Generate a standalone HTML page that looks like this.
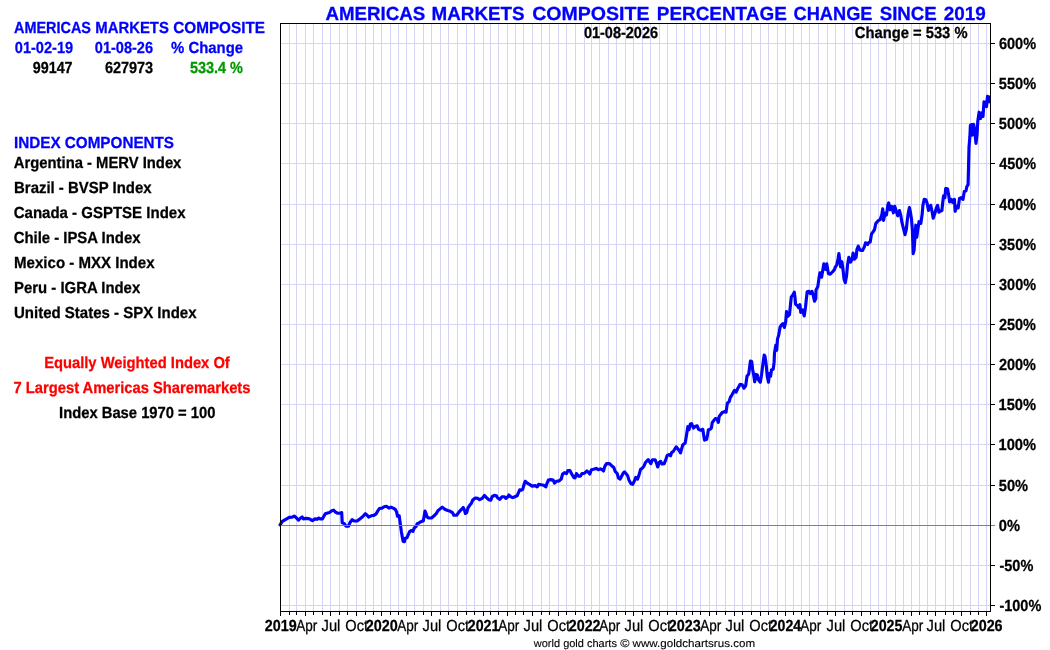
<!DOCTYPE html>
<html><head><meta charset="utf-8"><title>Americas Markets Composite</title>
<style>
html,body{margin:0;padding:0;background:#fff;}
body{width:1050px;height:650px;overflow:hidden;}
svg{display:block;will-change:transform;}
svg text{text-rendering:geometricPrecision;font-family:"Liberation Sans",Arial,Helvetica,sans-serif;font-size:16px;font-weight:bold;fill:#000;stroke:#000;stroke-width:.28px;white-space:pre;}
</style></head><body>
<svg width="1050" height="650" viewBox="0 0 1050 650">
<path d="M289.5 23.5V611.5M296.5 23.5V611.5M305.5 23.5V611.5M313.5 23.5V611.5M322.5 23.5V611.5M330.5 23.5V611.5M339.5 23.5V611.5M347.5 23.5V611.5M356.5 23.5V611.5M365.5 23.5V611.5M373.5 23.5V611.5M381.5 23.5V611.5M390.5 23.5V611.5M398.5 23.5V611.5M406.5 23.5V611.5M414.5 23.5V611.5M423.5 23.5V611.5M431.5 23.5V611.5M440.5 23.5V611.5M448.5 23.5V611.5M457.5 23.5V611.5M466.5 23.5V611.5M474.5 23.5V611.5M483.5 23.5V611.5M490.5 23.5V611.5M498.5 23.5V611.5M507.5 23.5V611.5M515.5 23.5V611.5M523.5 23.5V611.5M532.5 23.5V611.5M541.5 23.5V611.5M549.5 23.5V611.5M558.5 23.5V611.5M566.5 23.5V611.5M575.5 23.5V611.5M584.5 23.5V611.5M591.5 23.5V611.5M599.5 23.5V611.5M608.5 23.5V611.5M616.5 23.5V611.5M625.5 23.5V611.5M633.5 23.5V611.5M642.5 23.5V611.5M650.5 23.5V611.5M659.5 23.5V611.5M667.5 23.5V611.5M676.5 23.5V611.5M684.5 23.5V611.5M692.5 23.5V611.5M700.5 23.5V611.5M709.5 23.5V611.5M716.5 23.5V611.5M725.5 23.5V611.5M734.5 23.5V611.5M742.5 23.5V611.5M751.5 23.5V611.5M760.5 23.5V611.5M768.5 23.5V611.5M777.5 23.5V611.5M785.5 23.5V611.5M793.5 23.5V611.5M801.5 23.5V611.5M809.5 23.5V611.5M818.5 23.5V611.5M827.5 23.5V611.5M835.5 23.5V611.5M844.5 23.5V611.5M852.5 23.5V611.5M861.5 23.5V611.5M870.5 23.5V611.5M878.5 23.5V611.5M886.5 23.5V611.5M895.5 23.5V611.5M903.5 23.5V611.5M911.5 23.5V611.5M919.5 23.5V611.5M927.5 23.5V611.5M935.5 23.5V611.5M945.5 23.5V611.5M953.5 23.5V611.5M961.5 23.5V611.5M970.5 23.5V611.5M978.5 23.5V611.5M986.5 23.5V611.5M280.5 43.5H990.5M280.5 83.5H990.5M280.5 123.5H990.5M280.5 163.5H990.5M280.5 204.5H990.5M280.5 244.5H990.5M280.5 284.5H990.5M280.5 324.5H990.5M280.5 364.5H990.5M280.5 404.5H990.5M280.5 444.5H990.5M280.5 485.5H990.5M280.5 565.5H990.5M280.5 605.5H990.5" stroke="#d4d4f4" stroke-width="1" fill="none" shape-rendering="crispEdges"/>
<polyline points="280.1,524.9 282.3,521.4 285.8,519.3 289.2,517.4 292.2,517.1 294.2,516.1 296.1,517.6 298.5,520.1 300.6,518.0 302.1,516.9 303.4,518.9 305.6,518.4 308.1,518.6 310.3,519.3 312.4,520.6 315.0,518.9 317.2,519.3 318.5,518.0 320.2,518.9 322.4,518.9 324.1,515.8 325.4,513.7 327.5,513.1 329.7,512.4 331.8,510.7 333.6,510.2 335.3,512.0 337.4,513.1 340.0,513.2 341.7,512.6 342.2,522.7 344.3,523.6 346.0,526.2 348.6,526.2 349.9,522.7 352.1,519.7 354.2,521.0 357.2,521.0 359.8,518.9 362.6,516.7 365.3,513.7 366.9,515.0 368.6,517.1 371.2,515.8 373.8,515.4 375.9,514.1 377.7,511.1 379.4,508.5 382.0,508.1 384.6,506.5 386.7,506.4 388.9,508.1 391.0,507.2 393.2,508.1 395.3,509.4 396.6,512.0 397.5,516.3 399.2,515.8 399.8,520.1 400.5,525.3 401.3,531.3 402.2,536.5 403.1,541.2 404.4,541.7 405.2,538.2 406.9,537.8 408.2,534.8 409.5,531.8 411.2,530.5 413.0,531.3 414.3,527.9 416.0,526.6 417.3,523.6 419.4,522.7 421.6,521.4 423.3,521.0 424.2,515.8 425.0,511.1 425.9,513.2 427.2,517.1 428.9,518.0 431.5,518.0 434.1,515.8 436.2,513.7 437.9,510.7 440.1,508.9 442.2,507.2 444.0,508.5 445.2,509.6 447.8,510.5 450.3,511.3 452.5,512.6 453.8,515.2 456.8,515.2 458.5,512.6 460.7,510.1 463.2,507.5 464.6,510.5 465.4,513.5 466.7,512.6 468.0,507.9 469.7,505.3 471.4,503.2 472.7,500.1 475.3,498.0 477.9,498.4 479.6,499.7 482.2,498.4 484.4,495.4 486.5,497.6 488.7,499.7 490.8,500.1 492.1,496.7 494.3,495.4 496.4,495.8 497.7,498.0 499.9,499.3 502.0,496.7 504.2,496.7 505.9,498.4 507.6,497.1 508.9,495.0 510.6,496.7 512.8,497.6 514.9,496.7 517.1,495.8 518.4,492.8 519.7,489.8 521.4,490.2 522.7,489.4 524.0,484.6 525.2,481.3 527.3,483.1 529.5,484.4 532.1,486.1 535.1,485.6 537.2,486.9 538.5,484.4 541.1,484.8 543.7,485.2 545.8,486.9 547.1,483.1 548.4,480.1 550.6,479.6 553.2,480.1 554.5,483.1 556.6,481.3 559.2,480.9 561.3,478.8 562.6,474.0 564.4,472.7 566.5,473.6 567.8,470.6 570.0,470.6 571.7,474.0 573.8,477.5 575.1,477.9 576.4,473.6 578.6,476.2 580.3,476.2 582.0,473.6 584.6,473.2 586.8,471.0 588.5,472.3 589.8,474.0 591.5,469.7 593.6,469.3 596.2,468.4 598.4,469.7 600.5,468.9 602.2,469.7 603.5,471.0 604.8,466.3 606.5,463.6 609.5,463.6 611.6,465.7 613.8,467.5 615.1,471.3 617.2,473.5 618.5,478.2 620.2,479.1 621.5,476.5 623.2,473.1 624.5,471.8 626.3,473.9 627.6,475.6 628.9,479.9 631.0,483.8 632.7,484.3 634.5,480.8 635.7,477.4 637.5,479.1 638.8,475.6 640.5,469.6 642.2,468.3 643.9,466.2 645.6,462.3 648.2,459.7 650.8,463.6 652.5,459.7 655.1,459.7 656.8,464.0 657.7,467.0 659.4,462.3 660.7,461.4 662.0,464.0 664.2,463.6 665.9,459.3 667.2,455.4 668.9,454.6 670.6,455.8 671.5,452.8 673.2,451.5 676.2,446.8 678.4,449.4 680.5,452.8 682.7,445.1 685.2,443.1 686.5,435.3 687.8,426.7 689.0,429.7 690.3,424.1 691.6,423.7 693.4,428.0 695.5,426.3 697.2,425.9 698.5,429.3 700.7,430.2 702.8,429.3 703.7,435.3 704.5,440.1 706.7,439.2 707.6,434.5 708.4,429.7 710.1,429.3 711.4,428.0 712.3,422.4 714.0,420.3 715.3,418.6 717.0,419.0 718.3,422.4 719.2,416.4 720.9,414.2 722.2,412.5 724.4,411.7 726.1,412.1 726.9,406.1 727.4,403.0 729.1,401.8 730.4,397.4 731.7,395.3 734.5,390.4 736.2,392.1 737.9,388.2 740.1,384.4 742.2,384.8 744.0,388.2 745.7,385.6 747.0,376.2 748.7,374.0 749.5,368.4 750.4,361.1 751.7,361.5 752.6,369.3 753.9,376.2 754.7,381.8 756.0,374.4 757.3,374.9 758.2,379.6 760.3,382.2 761.6,374.4 762.9,364.1 764.2,355.1 765.0,356.4 766.3,365.8 767.2,376.2 768.5,382.2 769.4,373.6 770.6,376.2 771.5,369.7 773.2,369.3 774.1,362.4 774.5,352.9 775.8,345.2 776.7,350.3 777.5,339.1 778.8,334.8 780.1,327.1 781.8,324.5 783.1,323.6 784.4,327.5 785.7,321.9 786.5,311.6 787.8,316.3 789.5,314.6 790.4,305.5 791.3,296.9 793.0,294.8 794.3,292.2 795.1,298.2 795.6,304.2 797.3,305.5 798.6,307.7 799.9,304.7 800.7,312.4 802.5,309.8 804.2,315.9 805.5,307.2 806.3,299.5 807.2,291.8 808.9,291.3 810.2,293.5 811.9,291.3 813.2,295.2 814.5,301.2 815.8,298.6 816.0,290.1 817.8,286.7 819.0,278.1 819.9,272.9 821.6,277.2 822.9,269.4 823.8,263.9 825.5,269.4 826.8,263.9 827.7,269.4 828.5,273.8 830.2,274.2 832.4,272.0 834.5,269.4 835.4,266.9 836.7,265.1 838.0,259.1 838.9,253.5 839.7,260.0 840.6,266.9 841.9,261.7 843.2,271.2 844.0,278.9 845.3,282.8 846.6,275.5 847.5,265.1 848.8,257.4 850.5,262.1 852.2,259.1 853.1,253.1 854.4,259.1 856.1,257.4 856.9,249.6 858.2,246.2 860.0,250.1 862.5,250.5 864.3,247.1 865.5,242.8 867.7,244.5 868.0,242.9 870.2,242.1 871.5,233.9 873.2,231.7 874.5,229.6 875.8,223.5 877.9,220.9 880.1,219.7 881.8,214.9 882.7,208.9 883.5,220.5 885.2,213.2 886.5,214.9 887.8,205.4 888.7,202.9 890.0,209.8 891.7,206.3 893.4,212.8 894.7,206.3 896.4,211.5 897.7,215.8 899.5,210.6 900.7,214.9 902.0,222.7 903.3,227.8 905.0,234.7 906.3,229.6 907.2,220.9 908.1,214.1 909.4,207.6 910.6,213.2 911.5,219.2 912.4,230.4 912.8,243.3 913.2,253.7 914.1,250.2 915.0,236.4 915.8,225.2 916.7,237.3 919.0,221.7 920.8,223.4 922.1,214.8 922.9,205.3 924.2,199.3 925.9,199.7 927.2,203.6 928.5,210.5 930.7,205.3 932.0,211.3 933.2,218.2 935.0,213.1 936.3,207.9 937.6,205.3 938.9,212.2 940.1,211.3 941.9,210.5 942.7,202.7 943.6,195.8 944.9,197.6 945.7,188.5 947.5,188.9 948.8,195.8 949.6,201.9 951.3,199.3 952.6,202.3 954.4,199.3 955.2,211.3 956.5,206.2 958.2,207.9 959.5,198.4 961.2,197.6 963.0,199.3 964.3,191.5 966.0,190.7 966.8,186.8 968.1,184.6 969.0,147.5 969.9,136.5 970.4,125.4 971.5,124.7 972.2,135.1 973.6,124.3 974.6,129.5 976.0,143.4 977.1,133.7 977.8,121.2 979.1,112.2 980.5,118.5 981.9,112.9 983.0,116.4 984.0,101.8 985.4,102.5 986.5,106.7 987.5,96.3 988.9,97.0 989.5,101.8" stroke="#0000fa" stroke-width="3.15" fill="none" stroke-linejoin="round" stroke-linecap="round"/>
<path d="M280.5 525.5H995" stroke="#ff30d0" stroke-width="1" fill="none" shape-rendering="crispEdges"/>
<rect x="280.5" y="23.5" width="710.0" height="588.0" fill="none" stroke="#000" stroke-width="1" shape-rendering="crispEdges"/>
<path d="M280.5 612v4M289.5 612v3M296.5 612v3M305.5 612v4M313.5 612v3M322.5 612v3M330.5 612v4M339.5 612v3M347.5 612v3M356.5 612v4M365.5 612v3M373.5 612v3M381.5 612v4M390.5 612v3M398.5 612v3M406.5 612v4M414.5 612v3M423.5 612v3M431.5 612v4M440.5 612v3M448.5 612v3M457.5 612v4M466.5 612v3M474.5 612v3M483.5 612v4M490.5 612v3M498.5 612v3M507.5 612v4M515.5 612v3M523.5 612v3M532.5 612v4M541.5 612v3M549.5 612v3M558.5 612v4M566.5 612v3M575.5 612v3M584.5 612v4M591.5 612v3M599.5 612v3M608.5 612v4M616.5 612v3M625.5 612v3M633.5 612v4M642.5 612v3M650.5 612v3M659.5 612v4M667.5 612v3M676.5 612v3M684.5 612v4M692.5 612v3M700.5 612v3M709.5 612v4M716.5 612v3M725.5 612v3M734.5 612v4M742.5 612v3M751.5 612v3M760.5 612v4M768.5 612v3M777.5 612v3M785.5 612v4M793.5 612v3M801.5 612v3M809.5 612v4M818.5 612v3M827.5 612v3M835.5 612v4M844.5 612v3M852.5 612v3M861.5 612v4M870.5 612v3M878.5 612v3M886.5 612v4M895.5 612v3M903.5 612v3M911.5 612v4M919.5 612v3M927.5 612v3M935.5 612v4M945.5 612v3M953.5 612v3M961.5 612v4M970.5 612v3M978.5 612v3M986.5 612v4M991 43.5h4M991 83.5h4M991 123.5h4M991 163.5h4M991 204.5h4M991 244.5h4M991 284.5h4M991 324.5h4M991 364.5h4M991 404.5h4M991 444.5h4M991 485.5h4M991 565.5h4M991 605.5h4" stroke="#000" stroke-width="1" fill="none" shape-rendering="crispEdges"/>
<text x="325.39" y="20.0" style="fill:#0000ff;stroke:#0000ff;font-size:19px" textLength="99.98" lengthAdjust="spacingAndGlyphs">AMERICAS</text>
<text x="431.61" y="20.0" style="fill:#0000ff;stroke:#0000ff;font-size:19px" textLength="93.05" lengthAdjust="spacingAndGlyphs">MARKETS</text>
<text x="532.16" y="20.0" style="fill:#0000ff;stroke:#0000ff;font-size:19px" textLength="117.28" lengthAdjust="spacingAndGlyphs">COMPOSITE</text>
<text x="656.81" y="20.0" style="fill:#0000ff;stroke:#0000ff;font-size:19px" textLength="129.97" lengthAdjust="spacingAndGlyphs">PERCENTAGE</text>
<text x="793.55" y="20.0" style="fill:#0000ff;stroke:#0000ff;font-size:19px" textLength="78.98" lengthAdjust="spacingAndGlyphs">CHANGE</text>
<text x="879.69" y="20.0" style="fill:#0000ff;stroke:#0000ff;font-size:19px" textLength="57.15" lengthAdjust="spacingAndGlyphs">SINCE</text>
<text x="943.81" y="20.0" style="fill:#0000ff;stroke:#0000ff;font-size:19px" textLength="42.09" lengthAdjust="spacingAndGlyphs">2019</text>
<text x="583.95" y="38.0" textLength="74.09" lengthAdjust="spacingAndGlyphs">01-08-2026</text>
<text x="854.76" y="38.0" textLength="112.78" lengthAdjust="spacingAndGlyphs">Change = 533 %</text>
<text x="14.02" y="33.0" style="fill:#0000ff;stroke:#0000ff" textLength="76.98" lengthAdjust="spacingAndGlyphs">AMERICAS</text>
<text x="95.37" y="33.0" style="fill:#0000ff;stroke:#0000ff" textLength="73.45" lengthAdjust="spacingAndGlyphs">MARKETS</text>
<text x="173.24" y="33.0" style="fill:#0000ff;stroke:#0000ff" textLength="91.76" lengthAdjust="spacingAndGlyphs">COMPOSITE</text>
<text x="14.82" y="53.0" style="fill:#0000ff;stroke:#0000ff" textLength="58.32" lengthAdjust="spacingAndGlyphs">01-02-19</text>
<text x="94.83" y="53.0" style="fill:#0000ff;stroke:#0000ff" textLength="58.19" lengthAdjust="spacingAndGlyphs">01-08-26</text>
<text x="171.07" y="53.0" style="fill:#0000ff;stroke:#0000ff" textLength="71.96" lengthAdjust="spacingAndGlyphs">% Change</text>
<text x="32.77" y="73.0" textLength="39.81" lengthAdjust="spacingAndGlyphs">99147</text>
<text x="104.89" y="73.0" textLength="48.27" lengthAdjust="spacingAndGlyphs">627973</text>
<text x="189.95" y="73.0" style="fill:#009900;stroke:#009900" textLength="53.04" lengthAdjust="spacingAndGlyphs">533.4 %</text>
<text x="13.98" y="148.0" style="fill:#0000ff;stroke:#0000ff" textLength="160.07" lengthAdjust="spacingAndGlyphs">INDEX COMPONENTS</text>
<text x="13.85" y="168.0" textLength="167.51" lengthAdjust="spacingAndGlyphs">Argentina - MERV Index</text>
<text x="14.08" y="193.0" textLength="137.41" lengthAdjust="spacingAndGlyphs">Brazil - BVSP Index</text>
<text x="13.72" y="218.0" textLength="171.77" lengthAdjust="spacingAndGlyphs">Canada - GSPTSE Index</text>
<text x="13.72" y="243.0" textLength="126.76" lengthAdjust="spacingAndGlyphs">Chile - IPSA Index</text>
<text x="14.08" y="268.0" textLength="140.46" lengthAdjust="spacingAndGlyphs">Mexico - MXX Index</text>
<text x="14.10" y="293.0" textLength="126.09" lengthAdjust="spacingAndGlyphs">Peru - IGRA Index</text>
<text x="14.04" y="318.0" textLength="182.52" lengthAdjust="spacingAndGlyphs">United States - SPX Index</text>
<text x="44.15" y="368.0" style="fill:#ff0000;stroke:#ff0000" textLength="185.64" lengthAdjust="spacingAndGlyphs">Equally Weighted Index Of</text>
<text x="13.59" y="393.0" style="fill:#ff0000;stroke:#ff0000" textLength="236.85" lengthAdjust="spacingAndGlyphs">7 Largest Americas Sharemarkets</text>
<text x="59.11" y="418.0" textLength="156.30" lengthAdjust="spacingAndGlyphs">Index Base 1970 = 100</text>
<text x="533.82" y="646.7" style="font-weight:normal;font-size:11px;stroke-width:.12px" textLength="83.12" lengthAdjust="spacingAndGlyphs">world gold charts</text>
<text x="620.35" y="646.7" style="font-weight:normal;font-size:11px;stroke-width:.12px" textLength="9.27" lengthAdjust="spacingAndGlyphs">©</text>
<text x="632.59" y="646.7" style="font-weight:normal;font-size:11px;stroke-width:.12px" textLength="122.58" lengthAdjust="spacingAndGlyphs">www.goldchartsrus.com</text>
<text x="998.90" y="48.8" textLength="37.18" lengthAdjust="spacingAndGlyphs">600%</text>
<text x="998.85" y="88.8" textLength="37.26" lengthAdjust="spacingAndGlyphs">550%</text>
<text x="998.85" y="128.8" textLength="37.26" lengthAdjust="spacingAndGlyphs">500%</text>
<text x="999.16" y="168.8" textLength="36.87" lengthAdjust="spacingAndGlyphs">450%</text>
<text x="999.16" y="209.8" textLength="36.87" lengthAdjust="spacingAndGlyphs">400%</text>
<text x="999.08" y="249.8" textLength="36.90" lengthAdjust="spacingAndGlyphs">350%</text>
<text x="999.08" y="289.8" textLength="36.90" lengthAdjust="spacingAndGlyphs">300%</text>
<text x="998.96" y="329.8" textLength="37.00" lengthAdjust="spacingAndGlyphs">250%</text>
<text x="998.96" y="369.8" textLength="37.00" lengthAdjust="spacingAndGlyphs">200%</text>
<text x="998.51" y="409.8" textLength="37.51" lengthAdjust="spacingAndGlyphs">150%</text>
<text x="998.51" y="449.8" textLength="37.51" lengthAdjust="spacingAndGlyphs">100%</text>
<text x="998.85" y="490.8" textLength="29.28" lengthAdjust="spacingAndGlyphs">50%</text>
<text x="998.83" y="530.8" textLength="21.19" lengthAdjust="spacingAndGlyphs">0%</text>
<text x="999.43" y="570.8" textLength="33.89" lengthAdjust="spacingAndGlyphs">-50%</text>
<text x="999.43" y="610.8" textLength="41.87" lengthAdjust="spacingAndGlyphs">-100%</text>
<text x="264.76" y="630.8" textLength="31.86" lengthAdjust="spacingAndGlyphs">2019</text>
<text x="296.29" y="630.8" style="font-weight:normal" textLength="21.06" lengthAdjust="spacingAndGlyphs">Apr</text>
<text x="321.55" y="630.8" style="font-weight:normal" textLength="18.77" lengthAdjust="spacingAndGlyphs">Jul</text>
<text x="345.31" y="630.8" style="font-weight:normal" textLength="22.76" lengthAdjust="spacingAndGlyphs">Oct</text>
<text x="365.75" y="630.8" textLength="31.94" lengthAdjust="spacingAndGlyphs">2020</text>
<text x="397.29" y="630.8" style="font-weight:normal" textLength="21.06" lengthAdjust="spacingAndGlyphs">Apr</text>
<text x="422.55" y="630.8" style="font-weight:normal" textLength="18.77" lengthAdjust="spacingAndGlyphs">Jul</text>
<text x="446.31" y="630.8" style="font-weight:normal" textLength="22.76" lengthAdjust="spacingAndGlyphs">Oct</text>
<text x="467.76" y="630.8" textLength="31.62" lengthAdjust="spacingAndGlyphs">2021</text>
<text x="498.29" y="630.8" style="font-weight:normal" textLength="21.06" lengthAdjust="spacingAndGlyphs">Apr</text>
<text x="523.55" y="630.8" style="font-weight:normal" textLength="18.77" lengthAdjust="spacingAndGlyphs">Jul</text>
<text x="547.31" y="630.8" style="font-weight:normal" textLength="22.76" lengthAdjust="spacingAndGlyphs">Oct</text>
<text x="568.76" y="630.8" textLength="31.77" lengthAdjust="spacingAndGlyphs">2022</text>
<text x="599.29" y="630.8" style="font-weight:normal" textLength="21.06" lengthAdjust="spacingAndGlyphs">Apr</text>
<text x="624.55" y="630.8" style="font-weight:normal" textLength="18.77" lengthAdjust="spacingAndGlyphs">Jul</text>
<text x="648.31" y="630.8" style="font-weight:normal" textLength="22.76" lengthAdjust="spacingAndGlyphs">Oct</text>
<text x="668.75" y="630.8" textLength="31.91" lengthAdjust="spacingAndGlyphs">2023</text>
<text x="700.29" y="630.8" style="font-weight:normal" textLength="21.06" lengthAdjust="spacingAndGlyphs">Apr</text>
<text x="725.55" y="630.8" style="font-weight:normal" textLength="18.77" lengthAdjust="spacingAndGlyphs">Jul</text>
<text x="749.31" y="630.8" style="font-weight:normal" textLength="22.76" lengthAdjust="spacingAndGlyphs">Oct</text>
<text x="769.76" y="630.8" textLength="31.46" lengthAdjust="spacingAndGlyphs">2024</text>
<text x="800.29" y="630.8" style="font-weight:normal" textLength="21.06" lengthAdjust="spacingAndGlyphs">Apr</text>
<text x="826.55" y="630.8" style="font-weight:normal" textLength="18.77" lengthAdjust="spacingAndGlyphs">Jul</text>
<text x="850.31" y="630.8" style="font-weight:normal" textLength="22.76" lengthAdjust="spacingAndGlyphs">Oct</text>
<text x="870.75" y="630.8" textLength="31.65" lengthAdjust="spacingAndGlyphs">2025</text>
<text x="902.29" y="630.8" style="font-weight:normal" textLength="21.06" lengthAdjust="spacingAndGlyphs">Apr</text>
<text x="926.55" y="630.8" style="font-weight:normal" textLength="18.77" lengthAdjust="spacingAndGlyphs">Jul</text>
<text x="950.31" y="630.8" style="font-weight:normal" textLength="22.76" lengthAdjust="spacingAndGlyphs">Oct</text>
<text x="970.76" y="630.8" textLength="31.83" lengthAdjust="spacingAndGlyphs">2026</text>
</svg>
</body></html>
